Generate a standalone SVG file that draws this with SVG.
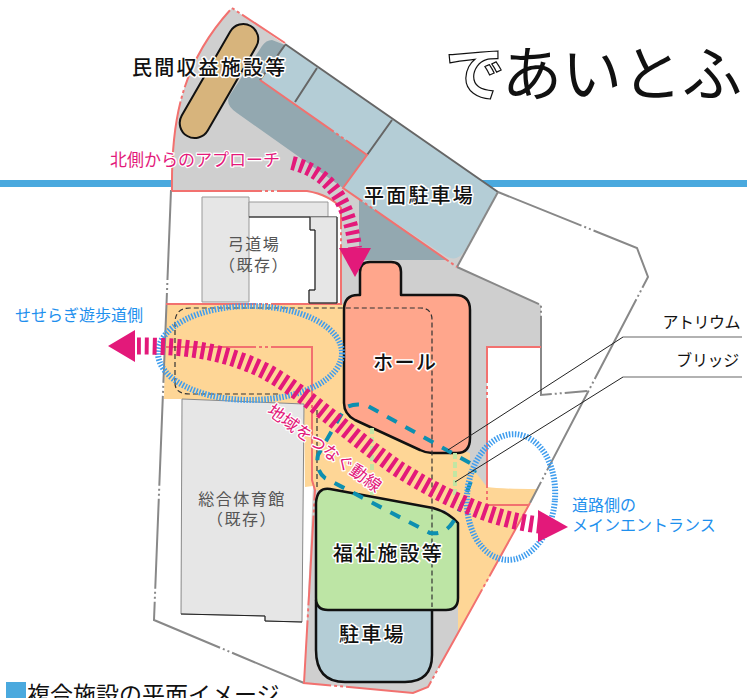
<svg xmlns="http://www.w3.org/2000/svg" width="747" height="698" viewBox="0 0 747 698">
<style>
text{font-family:"Noto Sans CJK JP","Noto Sans",sans-serif}
.lbl{font-size:20px;font-weight:500;fill:#111;stroke:#fff;stroke-width:3px;paint-order:stroke;stroke-linejoin:round;letter-spacing:2.2px}
.ex{font-size:16px;fill:#555;letter-spacing:1.5px;text-anchor:middle}
.mag{font-size:17px;fill:#e3197a;stroke:#fff;stroke-width:2.5px;paint-order:stroke;stroke-linejoin:round}
.blu{font-size:16px;fill:#1e90ee;stroke:#fff;stroke-width:2px;paint-order:stroke;stroke-linejoin:round}
.site{fill:none;stroke:#888;stroke-width:2;stroke-dasharray:90 3 2 3 2 3}
.red{fill:none;stroke:#f2716f;stroke-width:2;stroke-dasharray:90 3 3 3 3 3}
.bld{fill:#e6e6e6;stroke:#999;stroke-width:1}
.k{stroke:#111;stroke-width:2.5;stroke-linejoin:round}
.arrow{fill:none;stroke:#e3197a;stroke-width:17;stroke-dasharray:4 4}
.ell{fill:none;stroke:#3f9dee;stroke-width:6;stroke-dasharray:1.5 1.5}
.teal{fill:none;stroke:#0d8fb0;stroke-width:4;stroke-dasharray:11 10}
.thin{fill:none;stroke:#222;stroke-width:1}
.dash{fill:none;stroke:#333;stroke-width:1.2;stroke-dasharray:5 3}
.div{fill:none;stroke:#666;stroke-width:2}
</style>
<rect width="747" height="698" fill="#fff"/>
<rect x="0" y="180" width="747" height="7" fill="#4aa9de"/>
<g id="site">
<path d="M232 8L498 192L457 267L541 305V347H487V490L458 633L428 687L413 693L304 683L313 487V304H341V208Q335 197 307 191H172C171 120 182 62 232 8Z" fill="#cfcfcf"/>
<path d="M166 304H345V410L470 453V465L487 487Q500 489 537 489L488 580L458 633V522L445 510L316 490L313 486L305 487L304 404L182 399L164 399Z" fill="#fed696"/>
<path class="site" d="M171 190L154 620L304 683"/>
<path class="site" d="M498 192L637 248L648 277L530 503"/>
<path class="site" d="M457 267L541 305V395L587 391"/>
<path class="red" d="M172 191C171 120 182 62 232 8L285 43"/>
<path class="red" d="M172 191H307Q330 195 341 208V304M166 304H342"/>
<path class="red" d="M166 347H312V480L315 490L304 683L413 693L428 687L458 633L530 503"/>
<path class="red" d="M541 347H487V505H528"/>
</g>
<g id="parking-lot">
<path d="M272 40L285 45L367 155L343 188L237 113Q224 104 230 95L262 46Q266 40 272 40Z" fill="#93a8b0"/>
<path d="M359 199L447 260H359Z" fill="#93a8b0"/>
<path d="M285 45L498 192L465 250Q458 262 447 257L343 188L367 155L260 80Z" fill="#b4cdd6"/>
<path class="div" d="M285 45L260 80M317 68L295 102M392 120L367 155M285 44L498 192"/>
<path class="site" d="M498 192L457 267"/>
<path class="red" d="M260 80L367 155L343 188L457 267"/>
</g>
<g id="private"><rect x="-15" y="-63.5" width="30" height="127" rx="15" transform="translate(219 81) rotate(30)" fill="#d7b47c" stroke="#111" stroke-width="2"/></g>
<g id="kyudo">
<path class="bld" d="M202 197H249V302H202Z"/>
<path class="bld" d="M249 202H328V217H249Z"/>
<path d="M249 217H337" stroke="#111" fill="none"/>
<path class="bld" d="M310 217H337V303H309V290H315V230H310Z"/>
<path d="M337 217V303H309V290H315V230H310V217" fill="none" stroke="#111"/>
</g>
<g id="gym"><path d="M182 399L304 404L302 622L265 621V616L181 614Z" fill="#e6e6e6" stroke="#888"/><path d="M181 614L265 616V621L302 622" fill="none" stroke="#222"/></g>
<g id="hall"><path class="k" fill="#ffa68c" d="M360 295V272Q360 262 370 262H391Q401 262 401 272V295H455Q470 295 470 310V438Q470 453 457 453H432Q426 453 420 450L355 420Q344 414 344 403V310Q344 295 358 295Z"/></g>
<g id="parking2"><path class="k" fill="#b4cdd6" d="M316 600H432V655Q432 682 405 682H345Q316 682 316 650Z"/></g>
<g id="welfare"><path class="k" fill="#bde5a5" d="M316 503Q317 487 330 489L433 508Q448 512 458 523V598Q458 610 446 610H328Q316 610 316 598Z"/></g>
<g id="connectors">
<path class="dash" d="M175 383V323Q175 308 190 308H420Q432 308 432 320V607M175 383Q175 394 190 394H280M317 410V490"/>
<path d="M372 428V495M455 453V500" stroke="#c2e6a3" stroke-width="4" stroke-dasharray="6 3" fill="none"/>
<path class="teal" d="M470 463L368 406Q355 402 345 408L318 455Q315 470 325 478L430 533Q442 535 450 526Q458 518 475 470"/>
<ellipse class="ell" cx="250" cy="353" rx="92" ry="47"/>
<ellipse class="ell" cx="511" cy="497" rx="44" ry="63" transform="rotate(5 511 497)"/>
<path class="arrow" d="M137 346C175 346 220 348 267 372C310 396 355 440 400 470C440 495 490 520 540 525"/>
<path class="arrow" style="stroke-width:14" d="M292 163C320 170 348 190 355 248"/>
<path d="M108 346L135 330V362Z" fill="#e3197a"/>
<path d="M538 510L568 527L538 542Z" fill="#e3197a"/>
<path d="M339 248H371L355 277Z" fill="#e3197a"/>
<path class="thin" d="M448 450L623 337M455 482L623 377"/>
<path d="M623 337H742M623 377H742" stroke="#666" stroke-width="1.2" fill="none"/>
</g>
<g id="labels">
<text class="lbl" x="132" y="75">民間収益施設等</text>
<text class="lbl" x="364" y="203">平面駐車場</text>
<text class="lbl" x="373" y="370" style="letter-spacing:1.5px">ホール</text>
<text class="lbl" x="333" y="561">福祉施設等</text>
<text class="lbl" x="339" y="642">駐車場</text>
<text class="ex"><tspan x="254" y="250">弓道場</tspan><tspan x="254" y="271">（既存）</tspan></text>
<text class="ex"><tspan x="242" y="505">総合体育館</tspan><tspan x="242" y="525">（既存）</tspan></text>
<text class="mag" x="110" y="166">北側からのアプローチ</text>
<text class="mag" transform="translate(266 413) rotate(36)">地域をつなぐ動線</text>
<text class="blu" x="15" y="321">せせらぎ遊歩道側</text>
<text class="blu"><tspan x="572" y="511">道路側の</tspan><tspan x="572" y="531">メインエントランス</tspan></text>
<text x="740" y="328" font-size="16" fill="#111" text-anchor="end" letter-spacing="-0.5">アトリウム</text>
<text x="739" y="366" font-size="16" fill="#111" text-anchor="end" letter-spacing="-0.3">ブリッジ</text>
<text x="445" y="96" font-size="60" fill="#111"><tspan fill="#fff" stroke="#111" stroke-width="1.2" font-weight="700">で</tspan><tspan dx="-3">あいとふ</tspan></text>
<rect x="6" y="682" width="20" height="16" fill="#4aa9de"/>
<text x="27" y="703" font-size="23" fill="#111">複合施設の平面イメージ</text>
</g>
</svg>
